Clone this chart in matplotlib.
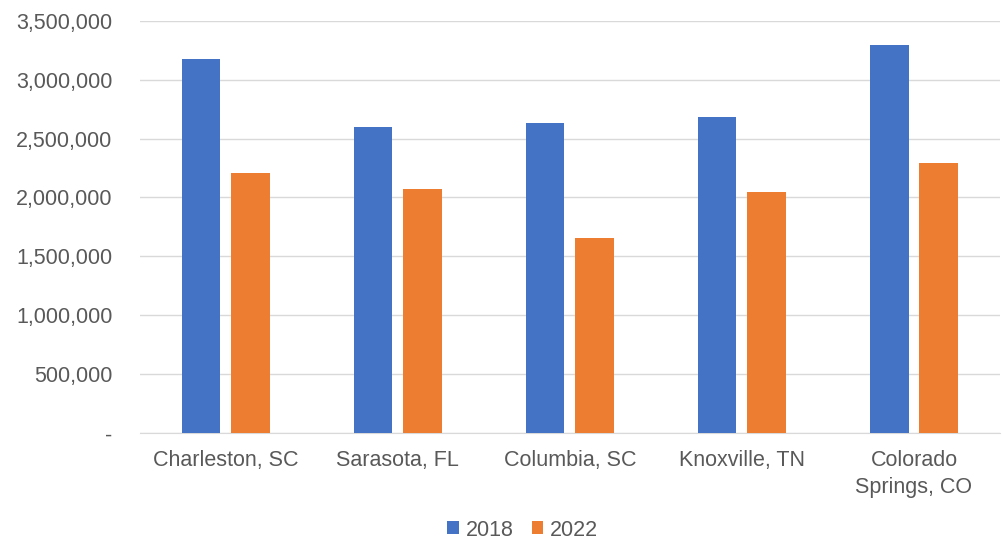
import numpy as np
import matplotlib.pyplot as plt
from matplotlib.ticker import FuncFormatter

plt.rcParams['font.family'] = ['Liberation Sans', 'DejaVu Sans']

# Города и значения по годам
cities = ['Charleston, SC', 'Sarasota, FL', 'Columbia, SC', 'Knoxville, TN', 'Colorado\nSprings, CO']
values_2018 = [3175000, 2596000, 2635000, 2683000, 3291000]
values_2022 = [2208000, 2072000, 1657000, 2047000, 2296000]

blue = '#4472C4'
orange = '#ED7D31'
grey = '#595959'
fs = 15.5

fig = plt.figure(figsize=(10.05, 5.42), dpi=100)
ax = fig.add_axes([0.139, 0.2005, 0.856, 0.7615])

x = np.arange(len(cities))
w = 0.225
ax.bar(x - 0.144, values_2018, w, color=blue, label='2018', zorder=3)
ax.bar(x + 0.144, values_2022, w, color=orange, label='2022', zorder=3)

ax.set_xlim(-0.5, len(cities) - 0.5)
ax.set_ylim(0, 3500000)
ax.set_yticks(np.arange(0, 3500001, 500000))


def fmt(v, pos):
    # ноль подписываем прочерком
    if v == 0:
        return '-'
    return f'{int(v):,}'


ax.yaxis.set_major_formatter(FuncFormatter(fmt))
ax.set_xticks(x)
ax.set_xticklabels(cities, linespacing=1.35)
ax.tick_params(axis='both', length=0, colors=grey, labelsize=fs)
ax.tick_params(axis='x', pad=12)
ax.tick_params(axis='y', pad=19.5)

ax.grid(axis='y', color='#d9d9d9', linewidth=1, zorder=0)
for s in ['top', 'right', 'left']:
    ax.spines[s].set_visible(False)
ax.spines['bottom'].set_color('#d9d9d9')

fig.legend(loc='center', bbox_to_anchor=(0.52, 0.022), ncol=2, frameon=False,
           fontsize=fs, labelcolor=grey, handlelength=0.55, handleheight=0.55,
           handletextpad=0.3, columnspacing=0.85)

fig.savefig('out.png', dpi=100)
